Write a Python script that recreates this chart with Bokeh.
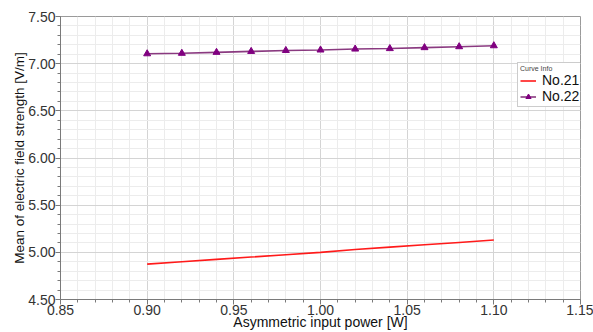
from bokeh.plotting import figure
from bokeh.models import Range1d, FixedTicker, Legend, LegendItem
from bokeh.embed import file_html
from bokeh.resources import INLINE

power = [0.90, 0.92, 0.94, 0.96, 0.98, 1.00, 1.02, 1.04, 1.06, 1.08, 1.10]
no21 = [4.875, 4.90, 4.925, 4.95, 4.975, 5.00, 5.03, 5.055, 5.08, 5.105, 5.13]
no22 = [7.105, 7.11, 7.12, 7.13, 7.14, 7.145, 7.155, 7.16, 7.17, 7.18, 7.19]
x_ticks = [0.85, 0.90, 0.95, 1.00, 1.05, 1.10, 1.15]
y_ticks = [4.50, 5.00, 5.50, 6.00, 6.50, 7.00, 7.50]

FONT = "Liberation Sans"

p = figure(width=593, height=332, output_backend="svg", toolbar_location=None,
           x_range=Range1d(0.85, 1.15), y_range=Range1d(4.5, 7.5),
           min_border_left=60, min_border_right=13, min_border_top=16, min_border_bottom=31)
p.background_fill_color = "white"
p.border_fill_color = "white"
p.outline_line_color = "#9a9a9a"
p.outline_line_width = 1

minor_x = [round(0.85 + 0.01 * i, 2) for i in range(31)]
minor_y = [round(4.5 + 0.1 * i, 1) for i in range(31)]
p.xaxis.ticker = FixedTicker(ticks=x_ticks, minor_ticks=minor_x)
p.yaxis.ticker = FixedTicker(ticks=y_ticks, minor_ticks=minor_y)
p.xaxis.major_label_overrides = {v: f"{v:.2f}" for v in x_ticks}
p.yaxis.major_label_overrides = {v: f"{v:.2f}" for v in y_ticks}

for ax in (p.xaxis[0], p.yaxis[0]):
    ax.axis_line_color = "#7a7a7a"
    ax.major_tick_line_color = "#7a7a7a"
    ax.minor_tick_line_color = "#7a7a7a"
    ax.major_tick_in = 0
    ax.major_tick_out = 5
    ax.minor_tick_in = 0
    ax.minor_tick_out = 3
    ax.major_label_text_font = FONT
    ax.major_label_text_font_size = "14px"
    ax.major_label_text_color = "#333333"
    ax.axis_label_text_font = FONT
    ax.axis_label_text_font_style = "normal"
    ax.axis_label_text_color = "#111111"
    ax.major_label_standoff = 0

p.xaxis.axis_label = "Asymmetric input power [W]"
p.xaxis.axis_label_text_font_size = "14px"
p.xaxis.axis_label_standoff = -4
p.yaxis.axis_label = "Mean of electric field strength [V/m]"
p.yaxis.axis_label_text_font_size = "13.5px"
p.yaxis.axis_label_standoff = -2

p.xgrid.grid_line_color = "#d4d4d4"
p.ygrid.grid_line_color = "#d4d4d4"
p.xgrid.minor_grid_line_color = "#ececec"
p.ygrid.minor_grid_line_color = "#ececec"

r21 = p.line(power, no21, line_color="#ff1a1a", line_width=1.6)
r22 = p.line(power, no22, line_color="#8a3a80", line_width=1.6)
m22 = p.scatter(power, no22, marker="triangle", size=7, fill_color="#800080", line_color="#800080")

legend = Legend(items=[LegendItem(label="No.21", renderers=[r21]),
                       LegendItem(label="No.22", renderers=[r22, m22])],
                location=(457, 192), title="Curve Info")
legend.title_text_font = FONT
legend.title_text_font_size = "7px"
legend.title_text_font_style = "normal"
legend.title_text_color = "#444444"
legend.title_text_align = "center"
legend.title_standoff = 0
legend.label_text_font = FONT
legend.label_text_font_size = "14px"
legend.label_text_color = "#111111"
legend.label_height = 13
legend.glyph_height = 13
legend.glyph_width = 16
legend.label_standoff = 6
legend.spacing = 0
legend.padding = 2
legend.margin = 0
legend.border_line_color = "#9a9a9a"
legend.background_fill_alpha = 1
p.add_layout(legend, "center")

open("out.html", "w").write(file_html(p, INLINE))
